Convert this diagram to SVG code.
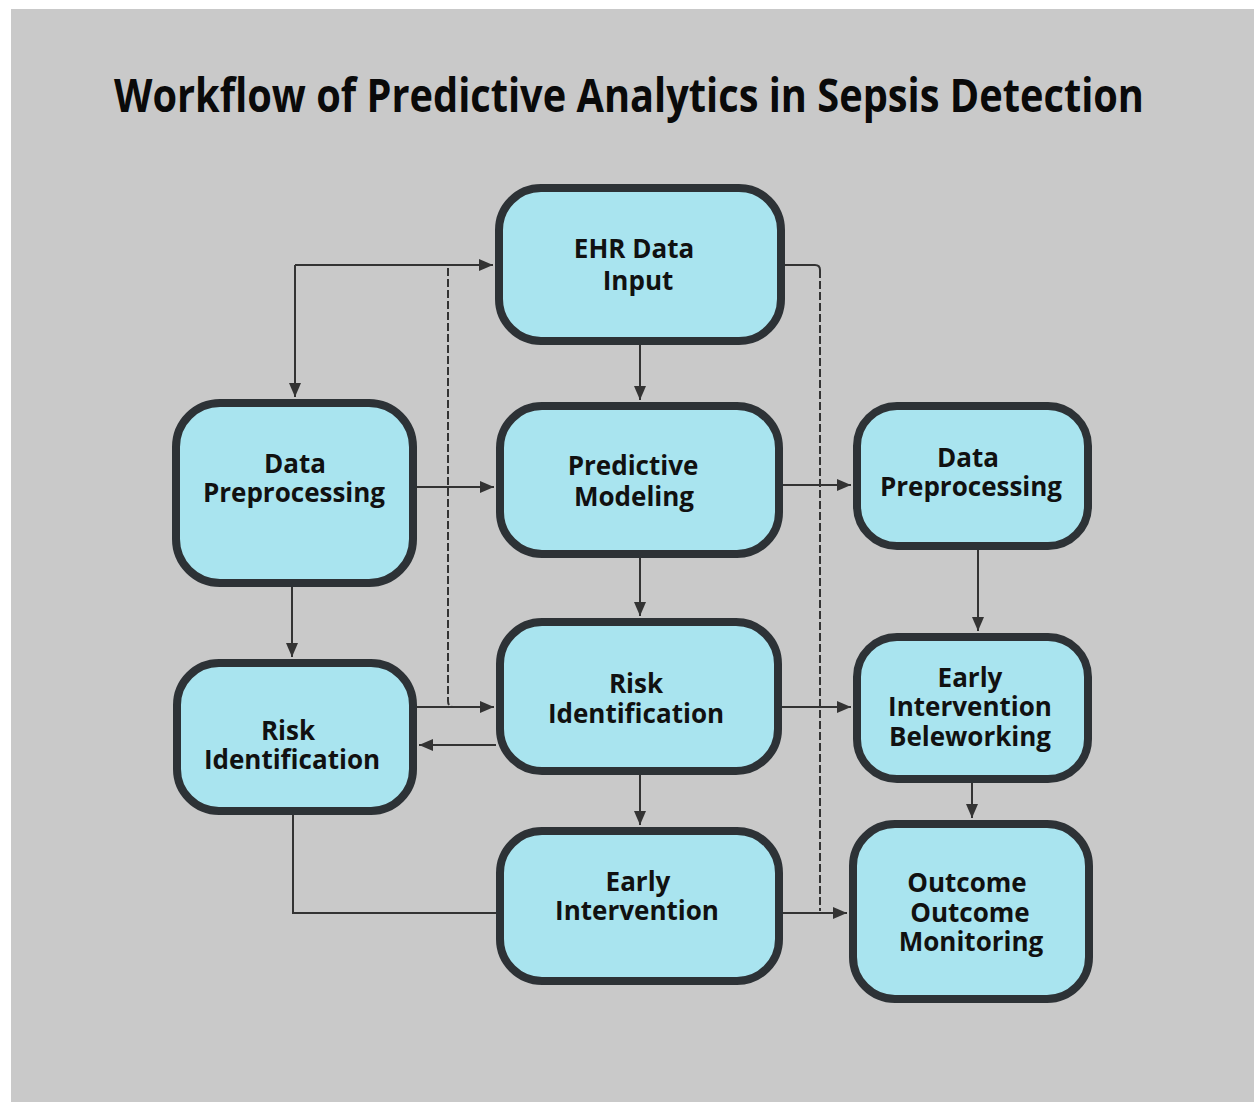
<svg xmlns="http://www.w3.org/2000/svg" width="1254" height="1102" viewBox="0 0 1254 1102">
<defs>
<style>
.node rect{fill:#a9e4ef;stroke:#2d3236;stroke-width:8}
.node text{font-family:"Open Sans","Noto Sans","DejaVu Sans",sans-serif;font-weight:bold;font-size:26px;fill:#111;text-anchor:middle}
.title{font-family:"Open Sans","Noto Sans","DejaVu Sans",sans-serif;font-weight:bold;font-size:47px;fill:#0a0a0a;text-anchor:middle}
#connectors path{fill:none;stroke:#333;stroke-width:2}
#connectors .a{marker-end:url(#arr)}
#connectors .d{stroke-dasharray:8 3}
</style>
<marker id="arr" markerUnits="userSpaceOnUse" markerWidth="15" markerHeight="13" refX="14" refY="6" orient="auto">
<path d="M0,0 L14,6 L0,12 z" fill="#333"/>
</marker>
</defs>
<rect x="0" y="0" width="1254" height="1102" fill="#ffffff"/>
<rect x="11" y="9" width="1243" height="1093" fill="#c9c9c9"/>
<g transform="translate(629,112) scale(0.846,1)"><text class="title" x="0" y="0">Workflow of Predictive Analytics in Sepsis Detection</text></g>

<g id="connectors">
<path class="a" d="M295,265 H493"/>
<path class="a" d="M295,265 V397"/>
<path class="a" d="M640,345 V400"/>
<path class="a" d="M417,487 H494"/>
<path class="a" d="M783,485 H851"/>
<path class="a" d="M640,558 V616"/>
<path class="a" d="M292,587 V657"/>
<path class="a" d="M417,707 H494"/>
<path class="a" d="M496,745 H419"/>
<path class="a" d="M782,707 H851"/>
<path class="a" d="M640,775 V825"/>
<path class="a" d="M978,550 V631"/>
<path class="a" d="M972,783 V818"/>
<path d="M293,815 V913 H496"/>
<path class="a" d="M783,913 H847"/>
<path class="d" d="M448,268 V701 Q448,707 454,707"/>
<path d="M785,265 H815 Q820,265 820,270"/>
<path class="d" d="M820,270 V911"/>
</g>

<g id="ehr" class="node"><rect x="499" y="188" width="282" height="153" rx="42"/><text x="634" y="258">EHR Data</text><text x="638" y="290">Input</text></g>
<g id="pm" class="node"><rect x="500" y="406" width="279" height="148" rx="42"/><text x="633" y="475">Predictive</text><text x="634" y="506">Modeling</text></g>
<g id="ri-center" class="node"><rect x="500" y="622" width="278" height="149" rx="42"/><text x="636" y="693">Risk</text><text x="636" y="723">Identification</text></g>
<g id="ei-center" class="node"><rect x="500" y="831" width="279" height="150" rx="42"/><text x="638" y="891">Early</text><text x="637" y="920">Intervention</text></g>
<g id="dp-left" class="node"><rect x="176" y="403" width="237" height="180" rx="44"/><text x="295" y="473">Data</text><text x="294" y="502">Preprocessing</text></g>
<g id="ri-left" class="node"><rect x="177" y="663" width="236" height="148" rx="42"/><text x="288" y="740">Risk</text><text x="292" y="769">Identification</text></g>
<g id="dp-right" class="node"><rect x="857" y="406" width="231" height="140" rx="40"/><text x="968" y="467">Data</text><text x="971" y="496">Preprocessing</text></g>
<g id="eib" class="node"><rect x="857" y="637" width="231" height="142" rx="40"/><text x="970" y="687">Early</text><text x="970" y="716">Intervention</text><text x="970" y="746">Beleworking</text></g>
<g id="outcome" class="node"><rect x="853" y="824" width="236" height="175" rx="42"/><text x="967" y="892">Outcome</text><text x="970" y="922">Outcome</text><text x="971" y="951">Monitoring</text></g>
</svg>
